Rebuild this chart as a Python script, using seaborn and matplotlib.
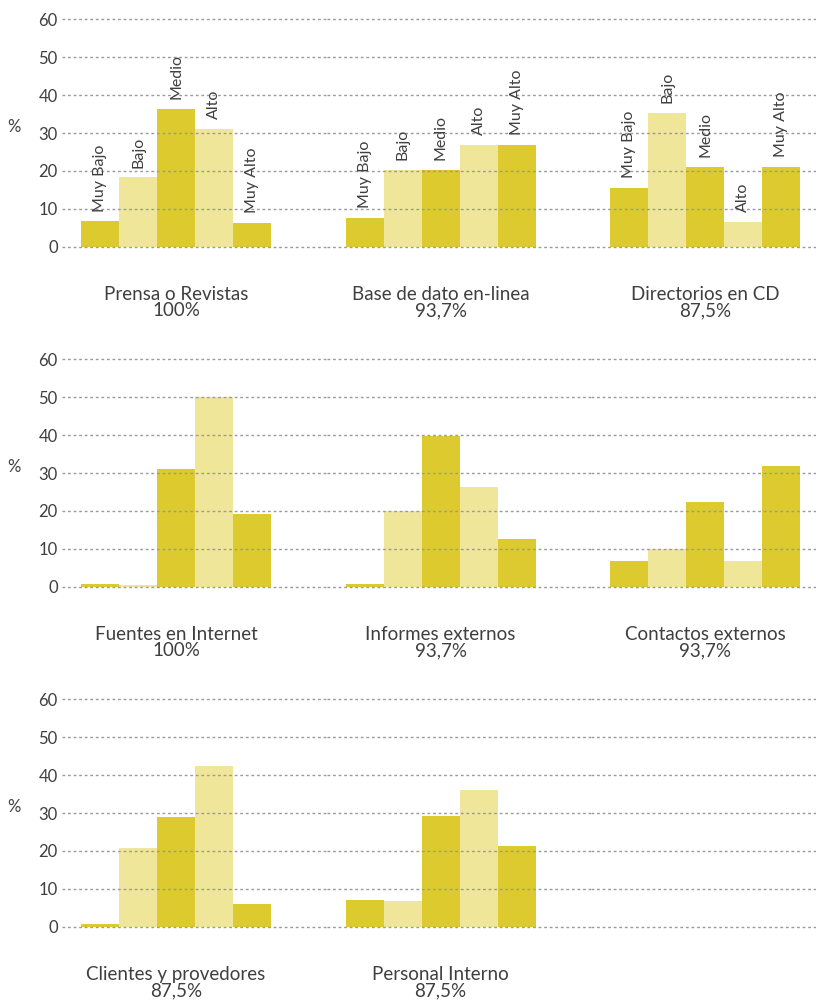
import matplotlib
matplotlib.use("Agg")
import matplotlib.pyplot as plt
import seaborn as sns
import pandas as pd

# ---- data ----
levels = ["Muy Bajo", "Bajo", "Medio", "Alto", "Muy Alto"]

sources = ["Prensa o Revistas", "Base de dato en-linea", "Directorios en CD",
           "Fuentes en Internet", "Informes externos", "Contactos externos",
           "Clientes y provedores", "Personal Interno"]
response = ["100%", "93,7%", "87,5%",
            "100%", "93,7%", "93,7%",
            "87,5%", "87,5%"]

prensa = [6.7, 18.3, 36.3, 31.0, 6.2]
base_datos = [7.6, 20.2, 20.2, 26.8, 26.8]
directorios = [15.5, 35.3, 21.0, 6.5, 21.0]
internet = [0.6, 0.5, 31.0, 50.0, 19.2]
informes = [0.6, 19.9, 39.8, 26.3, 12.6]
contactos = [6.8, 9.9, 22.3, 6.8, 31.8]
clientes = [0.6, 20.7, 28.9, 42.5, 6.0]
personal = [7.0, 6.7, 29.1, 36.2, 21.2]

series = [prensa, base_datos, directorios, internet, informes, contactos,
          clientes, personal]

yticks = [0, 10, 20, 30, 40, 50, 60]
ylabel = "%"

# ---- style ----
DARK = "#DDCA2F"
LIGHT = "#EFE699"
palette = [DARK, LIGHT, DARK, LIGHT, DARK]
TXT = "#3f3f3f"

sns.set_theme(style="white")
plt.rcParams["font.family"] = ["Lato", "DejaVu Sans"]

W, H = 816, 1005
fig = plt.figure(figsize=(W / 100, H / 100), dpi=100)

zero_px = [246.7, 586.7, 926.7]
ppu = 3.79  # pixels per unit
col_x = [(62, 326.5, 5.96), (326.5, 591, 5.96), (591, 816, 4.92)]
ylo, yhi = -1.0, 61.0

for r in range(3):
    z = zero_px[r]
    top_px = z - yhi * ppu
    bot_px = z - ylo * ppu
    for c in range(3):
        x0, x1, xr = col_x[c]
        ax = fig.add_axes([x0 / W, 1 - bot_px / H, (x1 - x0) / W, (bot_px - top_px) / H])
        idx = r * 3 + c
        if idx < len(series):
            df = pd.DataFrame({"nivel": levels, "valor": series[idx]})
            sns.barplot(data=df, x="nivel", y="valor", hue="nivel", palette=palette,
                        legend=False, width=1.0, saturation=1, linewidth=0, ax=ax)
            ax.annotate(f"{sources[idx]}\n{response[idx]}", xy=(2, 0), xycoords="data",
                        xytext=(0, -40), textcoords="offset points", ha="center",
                        va="center", fontsize=13.5, color=TXT, linespacing=0.95,
                        annotation_clip=False)
            if r == 0:
                for i, v in enumerate(series[idx]):
                    ax.annotate(levels[i], xy=(i, v), xytext=(0, 7),
                                textcoords="offset points", rotation=90,
                                ha="center", va="bottom", fontsize=11.5, color=TXT)
        ax.set_xlim(-1, xr)
        ax.set_ylim(ylo, yhi)
        ax.set_yticks(yticks)
        ax.set_xticks([])
        ax.set_xlabel("")
        ax.set_ylabel("")
        for s in ax.spines.values():
            s.set_visible(False)
        ax.grid(axis="y", color="#9a9a9a", linestyle=(0, (2, 2)), linewidth=1.0)
        ax.grid(axis="x", visible=False)
        ax.set_axisbelow(False)
        ax.patch.set_alpha(0)
        if c == 0:
            ax.tick_params(axis="y", length=0, pad=3, labelsize=12, labelcolor=TXT)
            fig.text(14 / W, 1 - (z - 31.5 * ppu) / H, ylabel, ha="center",
                     va="center", fontsize=12, color=TXT)
        else:
            ax.tick_params(axis="y", length=0, labelleft=False)

fig.savefig("out.png", dpi=100)
